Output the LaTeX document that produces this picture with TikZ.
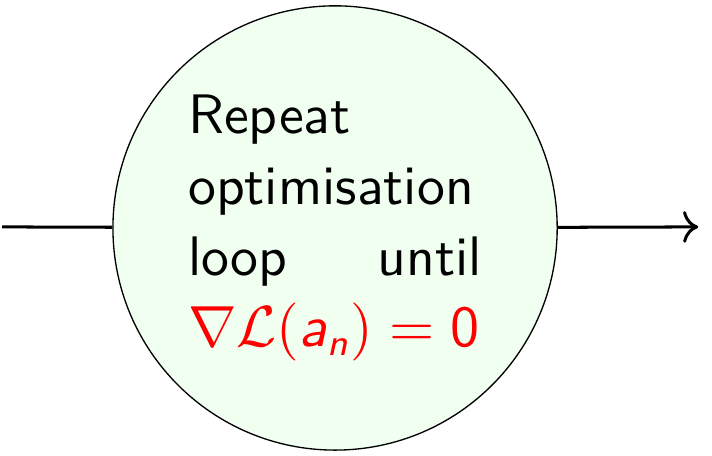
\documentclass[tikz,border=0pt]{standalone}
\usetikzlibrary{arrows.meta}
\DeclareMathAlphabet{\mathsfup}{OT1}{cmss}{m}{n}
\DeclareMathAlphabet{\mathsfit}{OT1}{cmss}{m}{sl}
\definecolor{mint}{RGB}{240,255,240}
\tikzset{
  stage/.style={circle,draw=black,fill=#1,line width=0.25pt,inner sep=0pt,
    minimum size=83.8pt,text width=55.4pt,align=justify,
    font=\fontsize{10.5}{13.4}\selectfont\sffamily},
  stage/.default=mint,
  flow/.style={draw=black,line width=0.57pt},
}
\begin{document}
\begin{tikzpicture}
  \useasboundingbox (0,0) rectangle (134.3pt,-86pt);
  \node[stage] (loop) at (63.2pt,-43pt)
    {Repeat\linebreak optimisation\linebreak loop until\linebreak
     \mbox{\textcolor{red}{$\nabla\mathcal{L}\mathsfup{(}\mathsfit{a}_{\mathsfit{n}}\mathsfup{)}
       \mathrel{\mathsfup{=}}\mathsfup{0}$}}};
  \coordinate (in) at (0.4pt,-42.8pt);
  \coordinate (out) at (131.7pt,-42.8pt);
  \draw[flow] (in) -- (loop);
  \draw[flow,->] (loop) -- (out);
\end{tikzpicture}
\end{document}
